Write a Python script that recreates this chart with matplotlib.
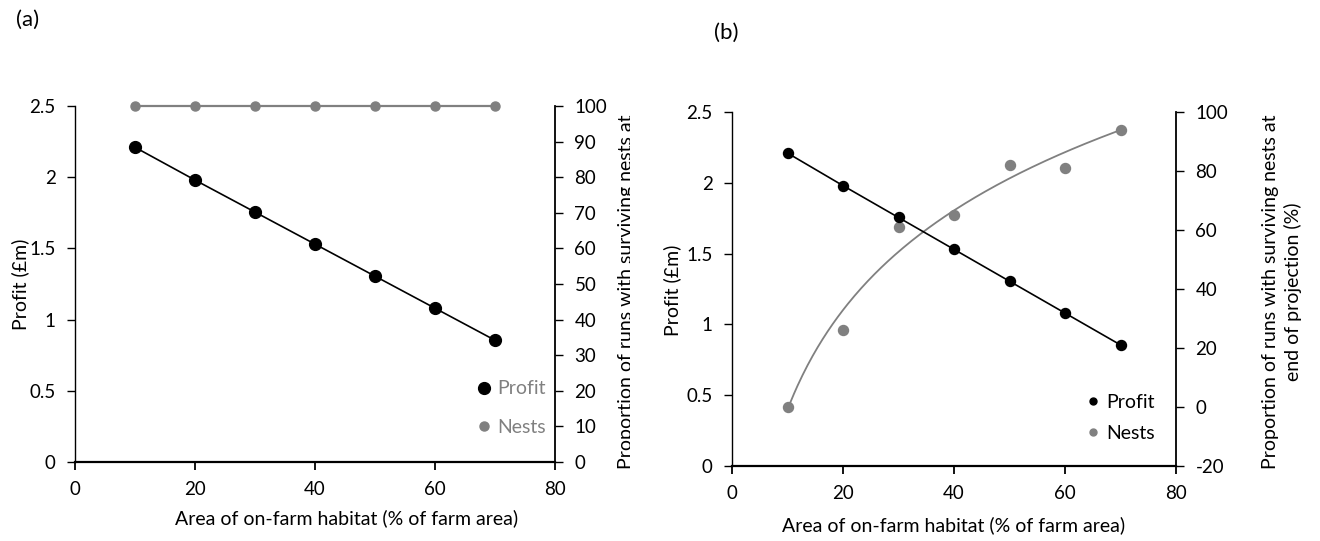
#profit vs nests, two panels (a) and (b)

import numpy as np
import matplotlib.pyplot as plt
from matplotlib.lines import Line2D
from matplotlib.ticker import MultipleLocator, FuncFormatter
from matplotlib.transforms import Bbox, TransformedBbox

plt.rcParams['font.family'] = ['Lato', 'DejaVu Sans']

#data
area = [10, 20, 30, 40, 50, 60, 70]
profit = [2.21, 1.98, 1.755, 1.53, 1.305, 1.08, 0.855]
nests_a = [100, 100, 100, 100, 100, 100, 100]
nests_b = [0, 26, 61, 65, 82, 81, 94]

xlabel = 'Area of on-farm habitat (% of farm area)'
ylabel = 'Profit (£m)'
rlabel = 'Proportion of runs with surviving nests at\nend of projection (%)'

grey = '#808080'
W, H = 1320, 541
fs = 14      # axis labels
tfs = 13.5   # tick labels

fig = plt.figure(figsize=(W/100, H/100), dpi=100)

#pixel box -> figure fraction rect
def box(x0, y0, x1, y1):
	return [x0/W, 1-y1/H, (x1-x0)/W, (y1-y0)/H]

gfmt = FuncFormatter(lambda v, p: '%g' % v)

def style(ax, ax2):
	ax.set_xlim(0, 80)
	ax.set_ylim(0, 2.5)
	ax.xaxis.set_major_locator(MultipleLocator(20))
	ax.yaxis.set_major_locator(MultipleLocator(0.5))
	ax.yaxis.set_major_formatter(gfmt)
	ax2.yaxis.set_major_formatter(gfmt)
	for a in (ax, ax2):
		a.spines['top'].set_visible(False)
		a.tick_params(direction='out', length=6, width=1, labelsize=tfs, pad=8)
		a.set_facecolor('none')
	ax.spines['right'].set_visible(False)
	ax.spines['left'].set_linewidth(1.0)
	ax.spines['bottom'].set_linewidth(1.6)
	ax2.spines['left'].set_visible(False)
	ax2.spines['bottom'].set_visible(False)
	ax2.spines['right'].set_linewidth(1.3)
	ax.tick_params(axis='x', width=1.3)

#panel (a)
axa = fig.add_axes(box(75, 106, 555, 462))
axa2 = axa.twinx()
style(axa, axa2)
axa2.set_ylim(0, 100)
axa2.yaxis.set_major_locator(MultipleLocator(10))
axa2.plot(area, nests_a, color=grey, lw=1.6, marker='o', markersize=6.5, clip_on=False, zorder=3)
axa.plot(area, profit, color='k', lw=1.2, marker='o', markersize=8.5, clip_on=False, zorder=4)
axa.set_zorder(axa2.get_zorder()+1)

ha = [Line2D([], [], ls='none', marker='o', color='k', markersize=8.5),
	Line2D([], [], ls='none', marker='o', color=grey, markersize=6.5)]
lega = axa.legend(ha, ['Profit', 'Nests'], loc='center left', frameon=False,
	bbox_to_anchor=(466/W, 1-408/H), bbox_transform=fig.transFigure,
	handlelength=0.8, handletextpad=0.3, labelspacing=1.1, fontsize=fs, borderpad=0)
for t in lega.get_texts():
	t.set_color(grey)

fig.text(20/W, 1-284/H, ylabel, rotation=90, ha='center', va='center', fontsize=fs)
fig.text(347/W, 1-518/H, xlabel, ha='center', va='center', fontsize=fs)
#right label of (a) is cut off at the panel edge, as in the source
ra = fig.text(638/W, 1-292/H, rlabel, rotation=90, ha='center', va='center',
	fontsize=fs, linespacing=1.3, multialignment='center')
ra.set_clip_box(TransformedBbox(Bbox([[0, 0], [630/W, 1]]), fig.transFigure))
fig.text(28/W, 1-20/H, '(a)', ha='center', va='center', fontsize=16)

#panel (b)
axb = fig.add_axes(box(732, 112, 1176, 466))
axb2 = axb.twinx()
style(axb, axb2)
axb2.set_ylim(-20, 100)
axb2.yaxis.set_major_locator(MultipleLocator(20))
#log trendline through the nest points
coef = np.polyfit(np.log(area), nests_b, 1)
xs = np.linspace(min(area), max(area), 200)
axb2.plot(xs, coef[0]*np.log(xs)+coef[1], color=grey, lw=1.3, zorder=2)
axb2.plot(area, nests_b, ls='none', color=grey, marker='o', markersize=7.2, clip_on=False, zorder=3)
axb.plot(area, profit, color='k', lw=1.2, marker='o', markersize=7.2, clip_on=False, zorder=4)
axb.set_zorder(axb2.get_zorder()+1)

hb = [Line2D([], [], ls='none', marker='o', color='k', markersize=5),
	Line2D([], [], ls='none', marker='o', color=grey, markersize=5)]
axb.legend(hb, ['Profit', 'Nests'], loc='center left', frameon=False,
	bbox_to_anchor=(1075/W, 1-418/H), bbox_transform=fig.transFigure,
	handlelength=0.8, handletextpad=0.3, labelspacing=0.7, fontsize=fs, borderpad=0)

fig.text(672/W, 1-290/H, ylabel, rotation=90, ha='center', va='center', fontsize=fs)
fig.text(954/W, 1-525/H, xlabel, ha='center', va='center', fontsize=fs)
fig.text(1282/W, 1-292/H, rlabel, rotation=90, ha='center', va='center',
	fontsize=fs, linespacing=1.3, multialignment='center')
fig.text(726/W, 1-33/H, '(b)', ha='center', va='center', fontsize=16)

fig.savefig('out.png', dpi=100)
